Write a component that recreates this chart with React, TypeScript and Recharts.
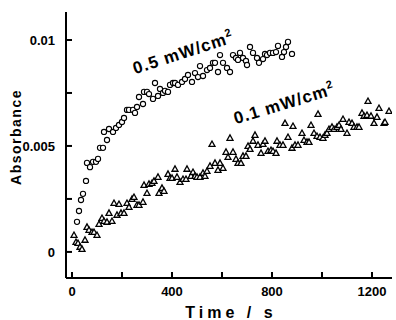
import React from "react";
import { ScatterChart, Scatter, XAxis, YAxis } from "recharts";

// 0.5 mW/cm2 (open circles)
const highTime = [20, 28, 36, 44, 56, 60, 72, 84, 96, 104, 112, 124, 128, 140, 148, 164, 176, 188, 200, 208, 220, 228, 244, 252, 260, 268, 284, 288, 300, 308, 324, 332, 344, 352, 364, 372, 384, 392, 404, 412, 424, 440, 452, 464, 480, 492, 504, 512, 524, 540, 552, 564, 572, 584, 592, 604, 620, 632, 644, 656, 664, 672, 684, 696, 700, 712, 724, 740, 748, 764, 772, 780, 792, 804, 816, 824, 840, 848, 856, 864, 880];
const highAbs = [0.00142, 0.00193, 0.00245, 0.00274, 0.00335, 0.0042, 0.004, 0.00425, 0.00425, 0.00439, 0.00491, 0.00491, 0.00566, 0.00528, 0.0058, 0.00566, 0.00585, 0.00599, 0.00613, 0.00632, 0.0067, 0.0067, 0.0067, 0.00656, 0.00684, 0.00731, 0.00698, 0.00755, 0.00755, 0.00745, 0.00722, 0.00797, 0.00736, 0.00769, 0.0075, 0.0076, 0.00755, 0.00788, 0.00797, 0.00797, 0.00788, 0.00802, 0.00816, 0.00835, 0.00802, 0.00844, 0.00825, 0.00877, 0.0083, 0.00858, 0.00868, 0.00892, 0.00892, 0.00849, 0.00929, 0.00892, 0.00868, 0.00849, 0.00929, 0.00915, 0.00906, 0.00939, 0.00915, 0.00901, 0.00882, 0.00967, 0.00939, 0.00915, 0.00892, 0.0091, 0.00934, 0.00929, 0.00939, 0.00939, 0.00943, 0.00972, 0.0092, 0.00943, 0.00967, 0.00991, 0.00934];

// 0.1 mW/cm2 (open triangles)
const lowTime = [8, 16, 24, 32, 40, 52, 60, 68, 80, 88, 100, 108, 120, 128, 140, 148, 160, 168, 180, 188, 196, 208, 220, 228, 240, 248, 260, 268, 284, 288, 300, 308, 320, 328, 344, 348, 360, 368, 384, 392, 400, 412, 420, 432, 444, 456, 460, 476, 484, 492, 500, 512, 524, 532, 540, 552, 560, 572, 584, 592, 604, 616, 624, 632, 644, 656, 664, 676, 684, 696, 704, 712, 724, 732, 744, 756, 764, 772, 784, 796, 804, 816, 820, 832, 844, 852, 864, 880, 884, 892, 904, 920, 928, 940, 948, 956, 968, 980, 984, 992, 1004, 1012, 1020, 1028, 1040, 1048, 1060, 1068, 1076, 1084, 1100, 1108, 1120, 1128, 1140, 1148, 1160, 1168, 1180, 1184, 1196, 1208, 1220, 1228, 1248, 1252, 1268];
const lowAbs = [0.0008, 0.00047, 0.00042, 0.00024, 0.00014, 0.00057, 0.00118, 0.00104, 0.00094, 0.00094, 0.0008, 0.00132, 0.0016, 0.00146, 0.00142, 0.00184, 0.00146, 0.00231, 0.00175, 0.00226, 0.00184, 0.00184, 0.00231, 0.00212, 0.0025, 0.00259, 0.00222, 0.00222, 0.00236, 0.00316, 0.00278, 0.00321, 0.00325, 0.00335, 0.00354, 0.00278, 0.00302, 0.00288, 0.00368, 0.00349, 0.00349, 0.00392, 0.00354, 0.0033, 0.00344, 0.00344, 0.00392, 0.00358, 0.00377, 0.00358, 0.00354, 0.00354, 0.00373, 0.00358, 0.00382, 0.00406, 0.00509, 0.0042, 0.00387, 0.0042, 0.00396, 0.00472, 0.00448, 0.00538, 0.00472, 0.00439, 0.0042, 0.0042, 0.00453, 0.00453, 0.005, 0.00486, 0.00524, 0.00552, 0.00505, 0.00467, 0.00509, 0.00524, 0.00476, 0.00481, 0.00476, 0.00467, 0.00524, 0.00505, 0.00505, 0.00608, 0.00542, 0.00491, 0.00594, 0.00505, 0.00505, 0.00561, 0.00528, 0.00519, 0.00519, 0.00599, 0.00561, 0.00547, 0.00651, 0.00542, 0.00538, 0.00552, 0.00561, 0.0058, 0.0059, 0.0058, 0.0059, 0.00599, 0.0058, 0.00627, 0.00561, 0.00613, 0.00608, 0.0059, 0.0059, 0.0059, 0.00656, 0.00642, 0.00646, 0.00712, 0.00642, 0.00608, 0.00637, 0.00679, 0.00608, 0.00613, 0.00665];

const xTicks = [0, 200, 400, 600, 800, 1000, 1200];
const xLabels = ["0", "", "400", "", "800", "", "1200"];
const yTicks = [0, 0.0025, 0.005, 0.0075, 0.01];
const yLabels = ["0", "", "0.005", "", "0.01"];

const highData = highTime.map((t, i) => ({ t, a: highAbs[i] }));
const lowData = lowTime.map((t, i) => ({ t, a: lowAbs[i] }));

const font = "'Liberation Sans', Arial, sans-serif";
const tickStyle = { fill: "#000", fontSize: 13, fontWeight: 700, fontFamily: font };

const Circle = (props: any) => (
  <circle cx={props.cx} cy={props.cy} r={2.6} fill="#fff" stroke="#000" strokeWidth={1.1} />
);

const Triangle = (props: any) => {
  const { cx, cy } = props;
  return (
    <polygon
      points={`${cx},${cy - 3} ${cx - 3},${cy + 2.4} ${cx + 3},${cy + 2.4}`}
      fill="#fff"
      stroke="#000"
      strokeWidth={1.3}
    />
  );
};

export default function App() {
  return (
    <div style={{ position: "absolute", left: 0, top: 0, width: 396, height: 320, background: "#fff" }}>
      <ScatterChart width={396} height={320} margin={{ top: 12, right: 4, bottom: 0, left: 0 }}>
        <XAxis
          type="number"
          dataKey="t"
          domain={[-24, 1280]}
          allowDataOverflow
          ticks={xTicks}
          tickFormatter={(v) => xLabels[xTicks.indexOf(v)] ?? ""}
          tickSize={-6}
          tickMargin={15}
          tick={tickStyle}
          height={42}
          stroke="#000"
          strokeWidth={2}
        />
        <XAxis
          xAxisId="top"
          orientation="top"
          type="number"
          domain={[-24, 1280]}
          height={0}
          tick={false}
          tickLine={false}
          stroke="#000"
          strokeWidth={2}
        />
        <YAxis
          type="number"
          dataKey="a"
          domain={[-0.00123, 0.01132]}
          allowDataOverflow
          ticks={yTicks}
          tickFormatter={(v) => yLabels[yTicks.indexOf(v)] ?? ""}
          tickSize={-6}
          tickMargin={17}
          tick={tickStyle}
          width={66}
          stroke="#000"
          strokeWidth={2}
        />
        <YAxis
          yAxisId="right"
          orientation="right"
          type="number"
          domain={[-0.00123, 0.01132]}
          width={0}
          tick={false}
          tickLine={false}
          stroke="#000"
          strokeWidth={2}
        />
        <Scatter data={highData} shape={Circle} isAnimationActive={false} />
        <Scatter data={lowData} shape={Triangle} isAnimationActive={false} />
      </ScatterChart>
      <svg
        width={396}
        height={320}
        style={{ position: "absolute", left: 0, top: 0, pointerEvents: "none" }}
        fontFamily={font}
        fontWeight={700}
      >
        <text x={185} y={58} textAnchor="middle" fontSize={17} letterSpacing={1} transform="rotate(-18 185 58)">
          0.5 mW/cm<tspan dy={-7} fontSize={11}>2</tspan>
        </text>
        <text x={286} y={109} textAnchor="middle" fontSize={17} letterSpacing={1} transform="rotate(-17 286 109)">
          0.1 mW/cm<tspan dy={-7} fontSize={11}>2</tspan>
        </text>
        <text x={21} y={137} textAnchor="middle" fontSize={14} letterSpacing={1.5} transform="rotate(-90 21 137)">
          Absorbance
        </text>
        <text x={231} y={318} textAnchor="middle" fontSize={16} letterSpacing={4}>
          Time / s
        </text>
      </svg>
    </div>
  );
}
